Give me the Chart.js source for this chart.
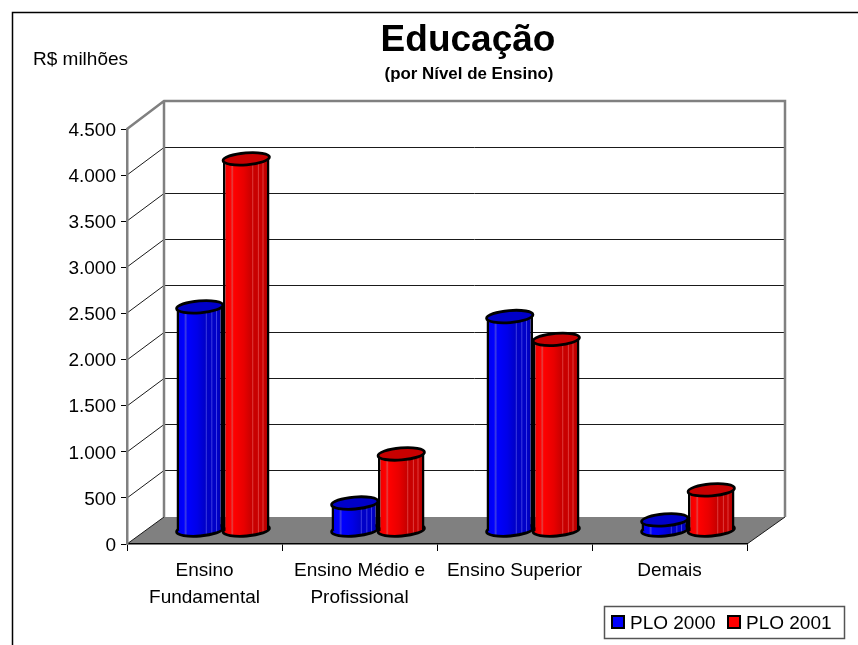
<!DOCTYPE html>
<html>
<head>
<meta charset="utf-8">
<title>Educação</title>
<script src="https://cdn.jsdelivr.net/npm/chart.js@4/dist/chart.umd.min.js"></script>
<style>
body { margin: 0; background: #fff; }
canvas { display: block; }
</style>
</head>
<body>
<canvas id="grafica" width="858" height="645"></canvas>
<script>
// Data:
const categorias = [["Ensino", "Fundamental"], ["Ensino Médio e", "Profissional"], ["Ensino Superior"], ["Demais"]];
const plo2000 = [2425, 298, 2320, 115];
const plo2001 = [4030, 830, 2073, 440];
const ticksY = [0, 500, 1000, 1500, 2000, 2500, 3000, 3500, 4000, 4500];

const FONT = '"Liberation Sans", Arial, sans-serif';
const DEPTH_X = 37, DEPTH_Y = 27;

// Side colour of a cylinder, light on the left and striped on the right
function getSide(ctx, x, w, tones)
{
    const g = ctx.createLinearGradient(x - w / 2, 0, x + w / 2, 0);
    const stops = [
        [0, tones[1]], [0.16, tones[0]], [0.2, tones[3]], [0.23, tones[0]], [0.45, tones[1]],
        [0.62, tones[2]], [0.64, tones[3]], [0.66, tones[2]], [0.74, tones[2]], [0.76, tones[3]],
        [0.78, tones[2]], [0.84, tones[2]], [0.86, tones[3]], [0.88, tones[2]], [1, tones[4]]
    ];
    stops.forEach(function (s) { g.addColorStop(s[0], s[1]); });
    return g;
}

const redTones = ["#ff0000", "#e80000", "#c80000", "#e04040", "#a00000"];
const blueTones = ["#0000ff", "#0000e8", "#0000c8", "#4040e0", "#0000a0"];

function sideColor(tones)
{
    return function (c)
    {
        if (c.dataIndex === undefined) return tones[0];
        const chart = c.chart;
        const x = chart.scales.x.getPixelForValue(c.dataIndex);
        // The scale has no size yet on the first pass
        if (!isFinite(x)) return tones[0];
        const w = 46.5;
        const cx = x + (c.datasetIndex === 0 ? -w / 2 : w / 2);
        return getSide(chart.ctx, cx, w, tones);
    };
}

function ellipse(ctx, x, y, w, fill)
{
    ctx.beginPath();
    ctx.ellipse(x, y, w / 2, 6, -0.08, 0, Math.PI * 2);
    ctx.fillStyle = fill;
    ctx.fill();
    ctx.lineWidth = 2.8;
    ctx.strokeStyle = "#000";
    ctx.stroke();
}

// Frame, walls, floor, grid, title and legend around the scales
const escena = {
    id: "escena",
    beforeDraw: function (chart)
    {
        const ctx = chart.ctx;
        const y = chart.scales.y;
        const a = chart.chartArea;
        ctx.save();

        // Frame
        ctx.strokeStyle = "#000";
        ctx.lineWidth = 1.5;
        ctx.beginPath();
        ctx.moveTo(12.5, 645);
        ctx.lineTo(12.5, 12.5);
        ctx.lineTo(858, 12.5);
        ctx.stroke();

        // Floor
        const y0 = y.getPixelForValue(0);
        ctx.fillStyle = "#808080";
        ctx.beginPath();
        ctx.moveTo(a.left, y0);
        ctx.lineTo(a.left + DEPTH_X, y0 - DEPTH_Y);
        ctx.lineTo(a.right + DEPTH_X + 1, y0 - DEPTH_Y);
        ctx.lineTo(a.right, y0);
        ctx.closePath();
        ctx.fill();

        // Grid on the back wall and left side
        ctx.lineWidth = 1;
        ctx.strokeStyle = "#1a1a1a";
        ticksY.forEach(function (t)
        {
            const py = Math.round(y.getPixelForValue(t));
            if (t === 0 || t === 4500) return;
            ctx.beginPath();
            ctx.moveTo(a.left, py);
            ctx.lineTo(a.left + DEPTH_X, py - DEPTH_Y - 0.5);
            ctx.lineTo(a.right + DEPTH_X + 1, py - DEPTH_Y - 0.5);
            ctx.stroke();
        });

        ctx.beginPath();
        ctx.moveTo(a.left, y0);
        ctx.lineTo(a.left + DEPTH_X, y0 - DEPTH_Y);
        ctx.stroke();
        ctx.beginPath();
        ctx.moveTo(a.right, y0);
        ctx.lineTo(a.right + DEPTH_X + 1, y0 - DEPTH_Y);
        ctx.stroke();

        // Wall edges
        const yTop = y.getPixelForValue(4500);
        ctx.strokeStyle = "#808080";
        ctx.lineWidth = 2.5;
        ctx.beginPath();
        ctx.moveTo(a.left, yTop);
        ctx.lineTo(a.left + DEPTH_X, yTop - DEPTH_Y - 1);
        ctx.lineTo(a.right + DEPTH_X + 1, yTop - DEPTH_Y - 1);
        ctx.lineTo(a.right + DEPTH_X + 1, y0 - DEPTH_Y);
        ctx.moveTo(a.left + DEPTH_X, yTop - DEPTH_Y - 1);
        ctx.lineTo(a.left + DEPTH_X, y0 - DEPTH_Y);
        ctx.stroke();

        // Title and unit
        ctx.fillStyle = "#000";
        ctx.textAlign = "center";
        ctx.textBaseline = "alphabetic";
        ctx.font = "bold 37px " + FONT;
        ctx.fillText("Educação", 468, 51);
        ctx.font = "bold 16.9px " + FONT;
        ctx.fillText("(por Nível de Ensino)", 469, 79);
        ctx.textAlign = "left";
        ctx.font = "19px " + FONT;
        ctx.fillText("R$ milhões", 33, 65);

        // Legend
        ctx.fillStyle = "#fff";
        ctx.strokeStyle = "#555";
        ctx.lineWidth = 1.5;
        ctx.fillRect(604.5, 606.5, 240, 32);
        ctx.strokeRect(604.5, 606.5, 240, 32);
        const entries = chart.data.datasets;
        const swatchX = [611, 727];
        const swatchColor = ["#0000ff", "#ff0000"];
        entries.forEach(function (d, i)
        {
            ctx.fillStyle = swatchColor[i];
            ctx.strokeStyle = "#000";
            ctx.lineWidth = 2;
            ctx.fillRect(swatchX[i] + 1, 616, 12, 12);
            ctx.strokeRect(swatchX[i] + 1, 616, 12, 12);
            ctx.fillStyle = "#000";
            ctx.font = "19px " + FONT;
            ctx.fillText(d.label, swatchX[i] + 19, 629);
        });
        ctx.restore();
    },
    // Draw blue before red (the library goes the other way), moved to the middle
    // of the floor depth, each bar with its bottom and its cap
    beforeDatasetsDraw: function (chart)
    {
        const ctx = chart.ctx;
        ctx.save();
        ctx.translate(DEPTH_X / 2, -DEPTH_Y / 2);
        [0, 1].forEach(function (i)
        {
            const meta = chart.getDatasetMeta(i);
            const tones = i === 0 ? blueTones : redTones;
            const top = i === 0 ? "#0000c8" : "#c80000";
            meta.data.forEach(function (bar, j)
            {
                ellipse(ctx, bar.x, bar.base, bar.width, getSide(ctx, bar.x, bar.width, tones));
                bar.draw(ctx);
                ellipse(ctx, bar.x, bar.y, bar.width, top);
            });
        });
        ctx.restore();
        return false;
    }
};

const ctx = document.getElementById("grafica").getContext("2d");
const myChart = new Chart(ctx, {
    type: "bar",
    data: {
        labels: categorias,
        datasets: [
            {
                label: "PLO 2000", data: plo2000,
                backgroundColor: sideColor(blueTones), borderColor: "#000",
                borderWidth: { left: 2.5, right: 2.5, top: 0, bottom: 0 }
            },
            {
                label: "PLO 2001", data: plo2001,
                backgroundColor: sideColor(redTones), borderColor: "#000",
                borderWidth: { left: 2.5, right: 2.5, top: 0, bottom: 0 }
            }
        ]
    },
    plugins: [escena],
    options: {
        responsive: false,
        animation: false,
        devicePixelRatio: 1,
        categoryPercentage: 0.6,
        barPercentage: 1,
        layout: {
            autoPadding: false,
            padding: { left: 67, right: 111, top: 129, bottom: 31 }
        },
        plugins: {
            legend: { display: false },
            title: { display: false },
            tooltip: { enabled: false }
        },
        scales: {
            x: {
                afterFit: function (scale) { scale.height = 70; },
                grid: { drawOnChartArea: false, tickLength: 7, color: "#000" },
                border: { color: "#000", width: 1.5 },
                ticks: {
                    color: "#000", maxRotation: 0, autoSkip: false, padding: 6,
                    font: { family: FONT, size: 19, lineHeight: 1.42 }
                }
            },
            y: {
                min: 0,
                max: 4500,
                afterFit: function (scale) { scale.width = 60; },
                afterBuildTicks: function (scale)
                {
                    scale.ticks = ticksY.map(function (v) { return { value: v }; });
                },
                grid: { drawOnChartArea: false, tickLength: 6, color: "#000" },
                border: { color: "#808080", width: 2.5 },
                ticks: {
                    color: "#000", padding: 5,
                    // Empty first line pushes the label down to sit on its tick
                    font: { family: FONT, size: 19, lineHeight: "3px" },
                    callback: function (v) { return ["", String(v).replace(/\B(?=(\d{3})+$)/, ".")]; }
                }
            }
        }
    }
});
</script>
</body>
</html>
